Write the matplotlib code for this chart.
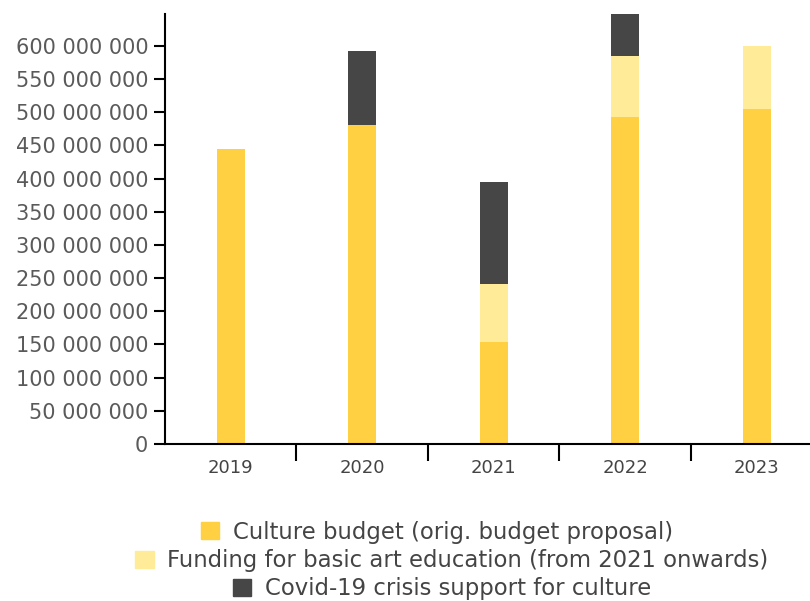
import matplotlib
matplotlib.use("Agg")
import matplotlib.pyplot as plt
from matplotlib.patches import Patch
from matplotlib.ticker import FuncFormatter, FixedLocator, NullFormatter
import numpy as np

# data (EUR)
years = ["2019", "2020", "2021", "2022", "2023"]
culture_budget = [445e6, 480e6, 153e6, 493e6, 505e6]
art_education = [0, 0, 88e6, 92e6, 95e6]
covid_support = [0, 112e6, 154e6, 70e6, 0]

labels = ["Culture budget (orig. budget proposal)",
          "Funding for basic art education (from 2021 onwards)",
          "Covid-19 crisis support for culture"]
colors = ["#FED042", "#FFEB98", "#464646"]

plt.rcParams['font.family'] = ['DejaVu Sans']

fig = plt.figure(figsize=(8.1, 6.01), dpi=100)
ax = fig.add_axes([165 / 810, 157 / 601, 645 / 810, 430 / 601])

x = np.arange(len(years))
w = 0.215
b1 = np.array(culture_budget)
b2 = np.array(art_education)
b3 = np.array(covid_support)
ax.bar(x, b1, w, color=colors[0])
ax.bar(x, b2, w, bottom=b1, color=colors[1])
ax.bar(x, b3, w, bottom=b1 + b2, color=colors[2])

ax.set_xlim(-0.5, 4.405)
ax.set_ylim(0, 648e6)

ax.set_yticks(np.arange(0, 600e6 + 1, 50e6))
ax.yaxis.set_major_formatter(FuncFormatter(lambda v, p: f"{int(v):,}".replace(",", " ")))

ax.set_xticks(x)
ax.set_xticklabels(years)
ax.xaxis.set_minor_locator(FixedLocator([0.5, 1.5, 2.5, 3.5]))
ax.xaxis.set_minor_formatter(NullFormatter())
ax.tick_params(axis='x', which='major', length=0, pad=11, labelsize=13, labelcolor="#444444")
ax.tick_params(axis='x', which='minor', length=12, width=1.5, color="black")
ax.tick_params(axis='y', length=8, width=1.5, pad=4, labelsize=15, labelcolor="#5a5a5a")

for s in ["top", "right"]:
    ax.spines[s].set_visible(False)
for s in ["left", "bottom"]:
    ax.spines[s].set_linewidth(1.5)

# legend rows, each centered on its own
rows_y = [532, 561, 589]
rows_x = [437, 452, 442]
for lab, col, ry, rx in zip(labels, colors, rows_y, rows_x):
    fig.legend(handles=[Patch(color=col)], labels=[lab], loc="center",
               bbox_to_anchor=(rx / 810, 1 - ry / 601), frameon=False,
               fontsize=16.4, handlelength=0.8, handleheight=0.8,
               handletextpad=0.6, borderpad=0, labelcolor="#444444")

fig.savefig("out.png", dpi=100)
